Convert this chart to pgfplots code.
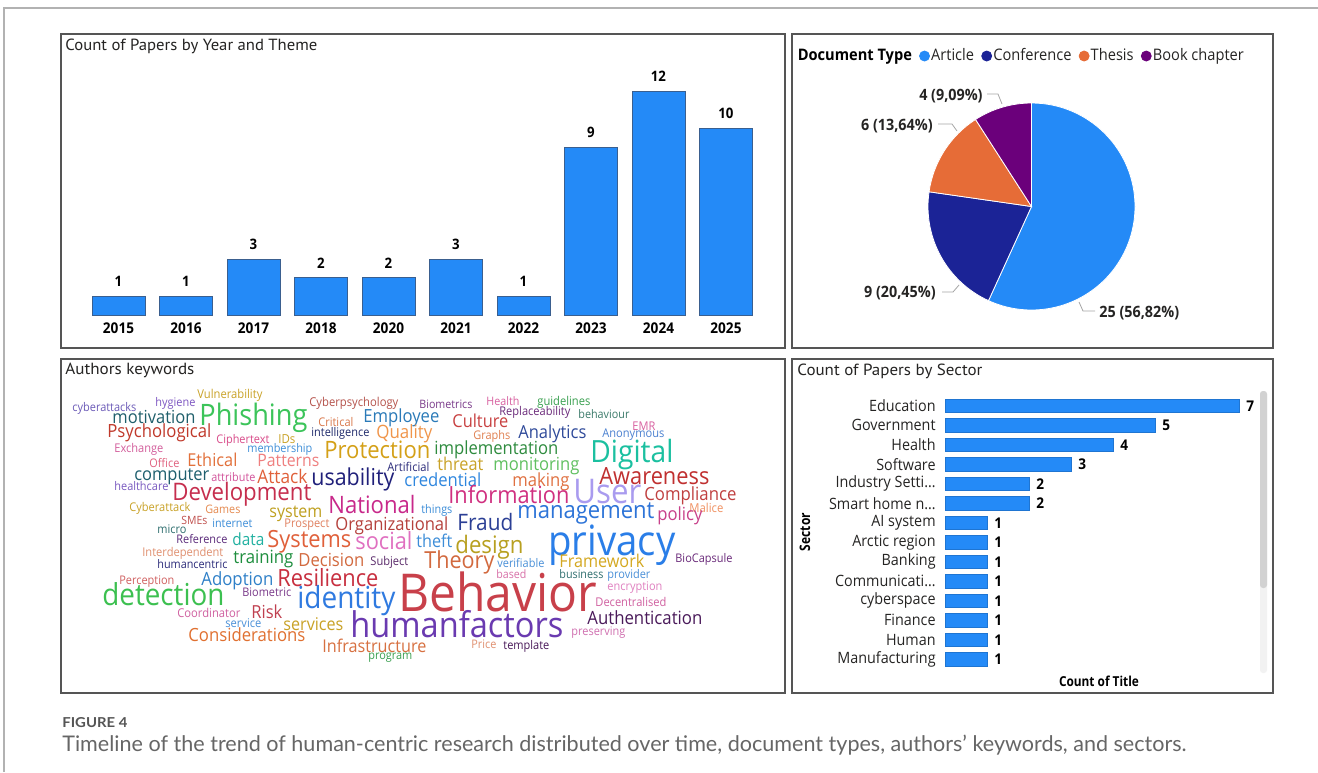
\documentclass[border=0pt]{standalone}
\usepackage{fontspec}
\setmainfont{Open Sans}[FakeStretch=0.92]
\newfontfamily\titlefont{PT Sans}
\newfontfamily\capfont{Lato}
\usepackage{graphicx}
\usepackage{pgfplots}
\pgfplotsset{compat=1.18}
\definecolor{pbBlue}{HTML}{248AF7}
\definecolor{pbEdge}{HTML}{3A5F8F}
\definecolor{pbNavy}{HTML}{1B2396}
\definecolor{pbOrange}{HTML}{E66C37}
\definecolor{pbPurple}{HTML}{6B007B}
\definecolor{txt}{HTML}{252423}
\definecolor{frameC}{HTML}{555555}
\newlength\wcu \setlength\wcu{0.5pt}
% word: left x, right x, baseline y, colour, text
\newcommand\wc[5]{\node[anchor=base west,inner sep=0pt] at (#1,#3) {\resizebox{\dimexpr #2\wcu-#1\wcu\relax}{!}{\color[HTML]{#4}#5}};}
\newcommand\ttl[4]{\node[anchor=base west,inner sep=0pt] at (#1,#2) {\resizebox{#3\wcu}{11.5\wcu}{\titlefont\color{txt}#4}};}
\pgfplotsset{/pgf/number format/assume math mode=true}
\begin{document}
\begin{tikzpicture}[x=0.5pt,y=-0.5pt]
\fill[white] (0,0) rectangle (1318,772);
\path[use as bounding box] (0,0) rectangle (1318,772);
\draw[gray!60, line width=0.6pt] (4,772) -- (4,8) -- (1318,8);
\draw[frameC, line width=0.9pt] (61,34) rectangle (785,348);
\draw[frameC, line width=0.9pt] (792,34) rectangle (1273,348);
\draw[frameC, line width=0.9pt] (61,359) rectangle (785,693);
\draw[frameC, line width=0.9pt] (792,359) rectangle (1273,693);
\ttl{65}{50}{252}{Count of Papers by Year and Theme}
\ttl{65}{374}{129}{Authors keywords}
\ttl{797}{375}{185}{Count of Papers by Sector}

% ---------- bar chart by year (axis lower-left at pixel 84.75,315)
\begin{axis}[at={(42.375pt,-157.5pt)}, anchor=south west, scale only axis,
  width=337.5pt, height=112pt, xmin=-0.5, xmax=9.5, ymin=0, ymax=12,
  axis line style={draw=none}, ytick=\empty, xtick={0,...,9},
  xticklabels={2015,2016,2017,2018,2020,2021,2022,2023,2024,2025},
  major tick length=0pt,
  xticklabel style={font=\bfseries\fontsize{7.4}{8}\selectfont, inner sep=0pt, anchor=north},
  xticklabel shift=3.8pt,
  ybar, bar width=0.785, clip=false,
  nodes near coords,
  every node near coord/.append style={font=\bfseries\fontsize{7.2}{8}\selectfont, inner sep=0pt, yshift=4.5pt, text=black}]
\addplot[fill=pbBlue, draw=pbEdge, line width=0.4pt] coordinates {(0,1)(1,1)(2,3)(3,2)(4,2)(5,3)(6,1)(7,9)(8,12)(9,10)};
\end{axis}

% ---------- pie chart (centre at pixel 1031.5,206.5)
\begin{axis}[at={(515.75pt,-103.25pt)}, anchor=center, scale only axis,
  width=103.5pt, height=103.5pt, xmin=-1, xmax=1, ymin=-1, ymax=1,
  hide axis, clip=false,
  legend image code/.code={\fill[#1] (0pt,0pt) circle (2.5pt);},
  legend style={at={(-0.637,1.227)}, anchor=west, draw=none, fill=none, inner sep=0pt,
    legend columns=5, legend cell align=left,
    nodes={inner sep=0pt, font=\fontsize{7.95}{9}\selectfont, text=txt},
    /tikz/every odd column/.style={column sep=0.6pt},
    /tikz/every even column/.style={column sep=3.6pt}}]
\addlegendimage{empty legend}\addlegendentry{\textbf{\color{black}Document Type}}
\addlegendimage{pbBlue}\addlegendentry{Article}
\addlegendimage{pbNavy}\addlegendentry{Conference}
\addlegendimage{pbOrange}\addlegendentry{Thesis}
\addlegendimage{pbPurple}\addlegendentry{Book chapter}
% counts: Article 25, Conference 9, Thesis 6, Book chapter 4 (total 44)
\fill[pbBlue, draw=white, line width=0.4pt] (axis cs:0,0) -- ++(90:51.75pt) arc[start angle=90, end angle={90-360*25/44}, radius=51.75pt] -- cycle;
\fill[pbNavy, draw=white, line width=0.4pt] (axis cs:0,0) -- ++({90-360*25/44}:51.75pt) arc[start angle={90-360*25/44}, end angle={90-360*34/44}, radius=51.75pt] -- cycle;
\fill[pbOrange, draw=white, line width=0.4pt] (axis cs:0,0) -- ++({90-360*34/44}:51.75pt) arc[start angle={90-360*34/44}, end angle={90-360*40/44}, radius=51.75pt] -- cycle;
\fill[pbPurple, draw=white, line width=0.4pt] (axis cs:0,0) -- ++({90-360*40/44}:51.75pt) arc[start angle={90-360*40/44}, end angle={90-360*44/44}, radius=51.75pt] -- cycle;
\end{axis}
\draw[gray!70, line width=0.4pt] (987,94) -- (998,94) -- (1002,104);
\draw[gray!70, line width=0.4pt] (938,124) -- (952,124) -- (957,131);
\draw[gray!70, line width=0.4pt] (942,292) -- (953,292) -- (959,285);
\draw[gray!70, line width=0.4pt] (1079,302) -- (1083,311) -- (1095,311);
\begin{scope}[every node/.style={inner sep=0pt, font=\bfseries\fontsize{7.8}{9}\selectfont, text=txt}]
\node[anchor=east] at (983,96) {4 (9,09\%)};
\node[anchor=east] at (933,126) {6 (13,64\%)};
\node[anchor=east] at (936,293) {9 (20,45\%)};
\node[anchor=west] at (1099,313) {25 (56,82\%)};
\end{scope}

% ---------- sector chart (axis lower-left at pixel 945,669)
\fill[gray!10, rounded corners=1.5pt] (1260,391) rectangle (1267,673);
\fill[gray!35, rounded corners=1.5pt] (1260,391) rectangle (1267,588);
\begin{axis}[at={(472.5pt,-334.5pt)}, anchor=south west, scale only axis,
  width=147pt, height=136.5pt, xmin=0, xmax=7, ymin=-0.5, ymax=13.5, y dir=reverse,
  xbar, bar width=0.68, clip=false,
  axis line style={draw=none}, xtick=\empty, ytick={0,...,13},
  yticklabels={Education,Government,Health,Software,Industry Setti…,Smart home n…,AI system,Arctic region,Banking,Communicati…,cyberspace,Finance,Human,Manufacturing},
  major tick length=0pt,
  yticklabel style={font=\fontsize{7.8}{9}\selectfont, inner sep=0pt, anchor=east, text=txt},
  yticklabel shift=4.5pt,
  nodes near coords,
  every node near coord/.append style={font=\bfseries\fontsize{7.4}{8}\selectfont, inner sep=0pt, xshift=3.5pt, text=black}]
\addplot[fill=pbBlue, draw=pbBlue!85!black, line width=0.3pt] coordinates {(7,0)(5,1)(4,2)(3,3)(2,4)(2,5)(1,6)(1,7)(1,8)(1,9)(1,10)(1,11)(1,12)(1,13)};
\end{axis}
\node[rotate=90, inner sep=0pt] at (805,532) {\resizebox{38\wcu}{10.5\wcu}{\bfseries Sector}};
\node[anchor=base, inner sep=0pt] at (1099,686) {\resizebox{80\wcu}{10.5\wcu}{\bfseries Count of Title}};

% ---------- word cloud
\wc{72}{136}{411}{6C5BB8}{cyberattacks}
\wc{155}{195}{406}{7E57C2}{hygiene}
\wc{197}{262}{398}{C9A227}{Vulnerability}
\wc{199}{307}{425}{3CC45A}{Phishing}
\wc{112}{195}{423}{1F5F6B}{motivation}
\wc{309}{398}{406}{B5524B}{Cyberpsychology}
\wc{318}{353}{426}{D9774A}{Critical}
\wc{363}{439}{422}{2A7AB8}{Employee}
\wc{107}{211}{437}{C0392B}{Psychological}
\wc{311}{369}{436}{1F2A6B}{intelligence}
\wc{376}{432}{438}{F0954A}{Quality}
\wc{216}{269}{443}{D94C8A}{Ciphertext}
\wc{278}{295}{443}{C9A227}{IDs}
\wc{114}{163}{452}{D35E9C}{Exchange}
\wc{247}{312}{452}{3F8FD8}{membership}
\wc{324}{430}{458}{D4A017}{Protection}
\wc{149}{179}{467}{E0607E}{Office}
\wc{187}{237}{466}{E2703A}{Ethical}
\wc{257}{319}{466}{EF7F7F}{Patterns}
\wc{387}{429}{471}{2B2B7A}{Artificial}
\wc{134}{209}{480}{1E5F6E}{computer}
\wc{211}{255}{481}{D2529A}{attribute}
\wc{257}{307}{483}{E0603A}{Attack}
\wc{311}{394}{485}{20207A}{usability}
\wc{404}{481}{486}{2E86DE}{credential}
\wc{114}{168}{490}{7A5AC0}{healthcare}
\wc{172}{311}{500}{C62E4E}{Development}
\wc{129}{190}{511}{C9A227}{Cyberattack}
\wc{205}{240}{513}{E58A50}{Games}
\wc{269}{322}{517}{BFA020}{system}
\wc{328}{415}{513}{C8288A}{National}
\wc{421}{452}{513}{3C8DD8}{things}
\wc{181}{207}{524}{C0504D}{SMEs}
\wc{212}{252}{527}{3C8DD8}{internet}
\wc{284}{329}{527}{E08060}{Prospect}
\wc{335}{448}{530}{B5413C}{Organizational}
\wc{419}{472}{408}{7A3A8A}{Biometrics}
\wc{486}{519}{405}{D860A0}{Health}
\wc{537}{590}{405}{3AA050}{guidelines}
\wc{499}{570}{415}{6B2A7A}{Replaceability}
\wc{578}{629}{418}{3B7A6A}{behaviour}
\wc{452}{508}{427}{C84040}{Culture}
\wc{632}{655}{430}{D860A0}{EMR}
\wc{473}{510}{439}{E08050}{Graphs}
\wc{518}{586}{438}{2F4A9A}{Analytics}
\wc{602}{664}{437}{4A80D0}{Anonymous}
\wc{434}{558}{454}{2E8B3E}{implementation}
\wc{590}{673}{462}{1BC0A0}{Digital}
\wc{437}{483}{470}{C9A227}{threat}
\wc{493}{579}{470}{60C060}{monitoring}
\wc{512}{569}{486}{E07040}{making}
\wc{599}{709}{484}{C03030}{Awareness}
\wc{448}{569}{503}{D03080}{Information}
\wc{573}{641}{503}{A99BEF}{User}
\wc{644}{736}{500}{C04040}{Compliance}
\wc{689}{723}{512}{F09060}{Malice}
\wc{517}{654}{518}{2D74D8}{management}
\wc{657}{702}{520}{C8408A}{policy}
\wc{457}{513}{530}{2B3F95}{Fraud}
\wc{157}{186}{533}{2F6F6F}{micro}
\wc{176}{227}{543}{5A2A7A}{Reference}
\wc{232}{264}{545}{20B0A0}{data}
\wc{267}{351}{547}{E0603A}{Systems}
\wc{355}{412}{549}{E070C0}{social}
\wc{142}{223}{556}{E09070}{Interdependent}
\wc{233}{293}{563}{1E8E3E}{training}
\wc{298}{364}{566}{D2693E}{Decision}
\wc{370}{408}{565}{5A2A6A}{Subject}
\wc{157}{227}{568}{2B2B7A}{humancentric}
\wc{119}{174}{584}{D06060}{Perception}
\wc{201}{273}{585}{2F80C8}{Adoption}
\wc{277}{378}{586}{C83040}{Resilience}
\wc{102}{224}{605}{3CC050}{detection}
\wc{242}{291}{596}{7A3A8A}{Biometric}
\wc{297}{395}{608}{2F7AE0}{identity}
\wc{177}{240}{617}{D060A0}{Coordinator}
\wc{251}{282}{618}{C04050}{Risk}
\wc{225}{261}{627}{4A90D8}{service}
\wc{283}{343}{630}{C9A227}{services}
\wc{188}{305}{641}{E07030}{Considerations}
\wc{322}{426}{652}{D77040}{Infrastructure}
\wc{368}{412}{659}{3AA050}{program}
\wc{416}{452}{547}{3C8DD8}{theft}
\wc{455}{523}{553}{B8A020}{design}
\wc{548}{675}{555}{2A7EE8}{privacy}
\wc{424}{494}{568}{D2693E}{Theory}
\wc{497}{544}{567}{4A90D8}{verifiable}
\wc{559}{644}{567}{D4A820}{Framework}
\wc{675}{732}{562}{6A2A7A}{BioCapsule}
\wc{496}{526}{578}{D870A8}{based}
\wc{559}{603}{578}{2F6F6F}{business}
\wc{607}{650}{578}{4A90D8}{provider}
\wc{607}{662}{590}{E080C0}{encryption}
\wc{398}{597}{611}{C8404A}{Behavior}
\wc{595}{666}{606}{D060A0}{Decentralised}
\wc{587}{702}{624}{4A1A5A}{Authentication}
\wc{350}{563}{637}{6A3AB0}{humanfactors}
\wc{571}{625}{635}{D070B0}{preserving}
\wc{471}{496}{648}{E09070}{Price}
\wc{503}{549}{649}{4A1A5A}{template}

% ---------- caption
\node[anchor=base west, inner sep=0pt] at (62,727) {\resizebox{65\wcu}{10\wcu}{\capfont\bfseries\color[HTML]{555555}FIGURE 4}};
\node[anchor=base west, inner sep=0pt] at (62,751) {\resizebox{1124\wcu}{!}{\capfont\color[HTML]{666666}Timeline of the trend of human-centric research distributed over time, document types, authors’ keywords, and sectors.}};
\end{tikzpicture}
\end{document}
